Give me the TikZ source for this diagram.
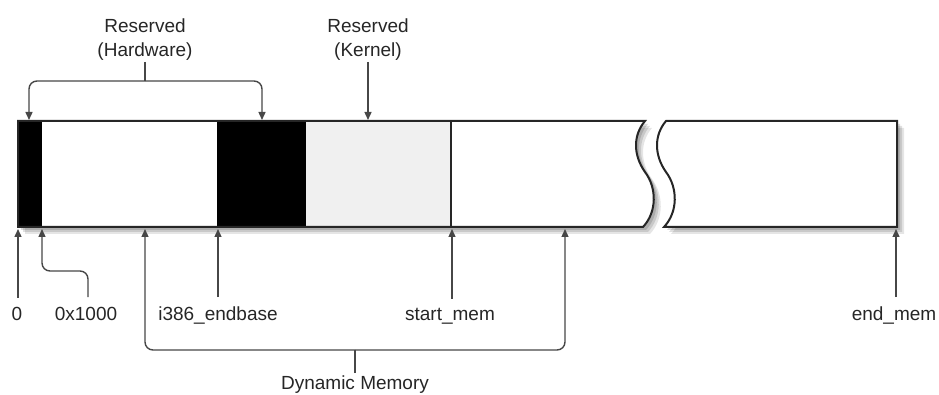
\documentclass[tikz,border=0pt]{standalone}
\usepackage{fontspec}
\setmainfont{Liberation Sans}
\usetikzlibrary{arrows.meta}
\begin{document}
\begin{tikzpicture}[x=1pt,y=-1pt,
  lbl/.style={font=\fontsize{19}{24}\selectfont, text=black!85, inner sep=0pt},
  conn/.style={draw=black!72, line width=1.4pt, -{Triangle[length=8pt,width=7pt]}},
  plain/.style={draw=black!72, line width=1.4pt},
  rc/.style={rounded corners=8pt},
  outline/.style={draw=black!85, line width=2pt, line join=miter}]
\useasboundingbox (0,0) rectangle (939,395);
% shadow
\foreach \o/\op in {7/0.10,5/0.12,3/0.14}{
  \fill[black, opacity=\op, shift={(\o,\o)}]
    (18,121) -- (645,121) .. controls (633,135) and (633,155) .. (645,172)
    .. controls (657,188) and (657,212) .. (643,227) -- (18,227) -- cycle;
  \fill[black, opacity=\op, shift={(\o,\o)}]
    (666,121) -- (897,121) -- (897,227) -- (664,227)
    .. controls (678,212) and (678,188) .. (666,172)
    .. controls (654,155) and (654,135) .. (666,121) -- cycle;
}
% bar fills
\fill[white] (18,121) -- (645,121) .. controls (633,135) and (633,155) .. (645,172)
    .. controls (657,188) and (657,212) .. (643,227) -- (18,227) -- cycle;
\fill[white] (666,121) -- (897,121) -- (897,227) -- (664,227)
    .. controls (678,212) and (678,188) .. (666,172)
    .. controls (654,155) and (654,135) .. (666,121) -- cycle;
\fill[black] (18,121) rectangle (42,227);
\fill[black] (217,121) rectangle (306,227);
\fill[black!6] (306,121) rectangle (451,227);
\draw[outline] (451,121) -- (451,227);
% bar outlines
\draw[outline] (18,121) -- (645,121) .. controls (633,135) and (633,155) .. (645,172)
    .. controls (657,188) and (657,212) .. (643,227) -- (18,227) -- cycle;
\draw[outline] (666,121) -- (897,121) -- (897,227) -- (664,227)
    .. controls (678,212) and (678,188) .. (666,172)
    .. controls (654,155) and (654,135) .. (666,121) -- cycle;

% arrow tip coordinates
\coordinate (hwA) at (29,120);
\coordinate (hwB) at (262,120);
\coordinate (kt) at (368,120);
\coordinate (t0) at (18,229);
\coordinate (t1) at (42,229);
\coordinate (tdA) at (145,229);
\coordinate (tdB) at (565,229);
\coordinate (t386) at (218,229);
\coordinate (tsm) at (452,229);
\coordinate (tem) at (896,229);
\coordinate (hwJ) at (145,81);
\coordinate (dmJ) at (355,350);

% top labels
\node[lbl, align=center, anchor=south] (hw) at (145,61) {Reserved\\(Hardware)};
\node[lbl, align=center, anchor=south] (ker) at (368,61) {Reserved\\(Kernel)};
\draw[plain] ([yshift=-1pt]hw.south) -- (hwJ);
\draw[conn, rc] (hwJ) -| (hwA);
\draw[conn, rc] (hwJ) -| (hwB);
\draw[conn] ([yshift=-1pt]ker.south) -- (kt);

% bottom labels
\node[lbl, anchor=base] (l0) at (17,320) {0};
\node[lbl, anchor=base] (l1) at (86,320) {0x1000};
\node[lbl, anchor=base] (l386) at (218,320) {i386\_endbase};
\node[lbl, anchor=base] (lsm) at (450,320) {start\_mem};
\node[lbl, anchor=base] (lem) at (894,320) {end\_mem};
\node[lbl, anchor=base] (ldm) at (355,389) {Dynamic Memory};

\draw[conn] (t0 |- l0.north) ++(0,-9) -- (t0);
\draw[conn, rc] (88,297) -- (88,271) -| (t1);
\draw[conn] (t386 |- l386.north) ++(0,-9) -- (t386);
\draw[conn] (tsm |- lsm.north) ++(0,-9) -- (tsm);
\draw[conn] (tem |- lem.north) ++(0,-9) -- (tem);
\draw[plain] ([yshift=2pt]ldm.north) -- (dmJ);
\draw[conn, rc] (dmJ) -| (tdA);
\draw[conn, rc] (dmJ) -| (tdB);
\end{tikzpicture}
\end{document}
